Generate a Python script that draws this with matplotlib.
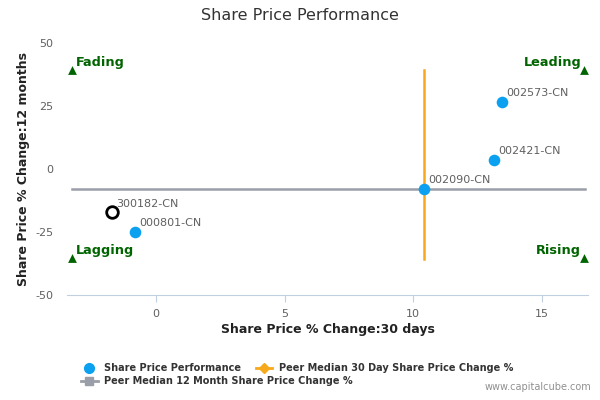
import matplotlib.pyplot as plt
from matplotlib.lines import Line2D

plt.rcParams['axes.unicode_minus'] = False

# Data
tickers = ['002573-CN', '002421-CN', '002090-CN', '000801-CN']
chg_30d = [13.45, 13.15, 10.43, -0.82]
chg_12m = [26.6, 3.6, -7.9, -25.0]

# highlighted company (open circle)
focus_name = '300182-CN'
focus_30d = -1.71
focus_12m = -17.1

# peer medians
median_30d = 10.43
median_12m = -7.9
median_30d_span = [-35.7, 39.3]
median_12m_span = [-3.27, 16.7]

# quadrant markers
quad_labels = ['Fading', 'Leading', 'Lagging', 'Rising']
quad_x = [-3.27, 16.65, -3.27, 16.65]
quad_y = [39.3, 39.3, -35.3, -35.3]

xlim = (-3.46, 16.8)
ylim = (-50, 50)

fig = plt.figure(figsize=(6, 4), dpi=100)
ax = fig.add_axes([0.1117, 0.2625, 0.8683, 0.63])

GREEN = '#006400'
BLUE = '#0ba0f0'
ORANGE = '#f7a81b'
GREY = '#9a9ea8'
TEXT = '#606060'

# median lines
ax.plot(median_12m_span, [median_12m, median_12m], color=GREY, lw=1.8, zorder=2)
ax.plot([median_30d, median_30d], median_30d_span, color=ORANGE, lw=1.8, zorder=2)

# points
ax.scatter(chg_30d, chg_12m, s=70, color=BLUE, zorder=3, linewidths=0)
for name, x, y in zip(tickers, chg_30d, chg_12m):
    ax.annotate(name, (x, y), xytext=(3, 4), textcoords='offset points',
                fontsize=8, color=TEXT)
ax.scatter([focus_30d], [focus_12m], s=70, facecolor='white',
           edgecolor='black', linewidths=2, zorder=4)
ax.annotate(focus_name, (focus_30d, focus_12m), xytext=(3, 4),
            textcoords='offset points', fontsize=8, color=TEXT)

# quadrant labels
ax.scatter(quad_x, quad_y, marker='^', s=40, color=GREEN, zorder=3, linewidths=0)
for lab, x, y in zip(quad_labels, quad_x, quad_y):
    if x < 0:
        ax.annotate(lab, (x, y), xytext=(3, 3), textcoords='offset points',
                    fontsize=9.3, fontweight='bold', color=GREEN)
    else:
        ax.annotate(lab, (x, y), xytext=(-2, 3), textcoords='offset points',
                    fontsize=9.3, fontweight='bold', color=GREEN, ha='right')

ax.set_xlim(*xlim)
ax.set_ylim(*ylim)
ax.set_xticks([0, 5, 10, 15])
ax.set_yticks([-50, -25, 0, 25, 50])
ax.tick_params(axis='x', colors='#c0d0e0', labelcolor=TEXT, labelsize=8,
               length=5, direction='out', pad=5)
ax.tick_params(axis='y', length=0, labelcolor=TEXT, labelsize=8, pad=10)
for s in ['top', 'right', 'left']:
    ax.spines[s].set_visible(False)
ax.spines['bottom'].set_color('#c0d0e0')

ax.set_xlabel('Share Price % Change:30 days', fontsize=9, fontweight='bold',
              color='#222222', labelpad=3)
ax.set_ylabel('Share Price % Change:12 months', fontsize=9, fontweight='bold',
              color='#222222')
ax.yaxis.set_label_coords(-0.072, 0.5)
fig.text(0.5, 0.96, 'Share Price Performance', ha='center', va='center',
         fontsize=11.5, color='#333333')

# legend, two rows laid out like the reference
h_perf = Line2D([], [], marker='o', color=BLUE, linestyle='none', markersize=7)
h_30d = Line2D([], [], marker='D', color=ORANGE, lw=2, markersize=5)
h_12m = Line2D([], [], marker='s', color=GREY, lw=2, markersize=6)
leg_kw = dict(frameon=False, prop={'size': 7, 'weight': 'bold'},
              labelcolor='#333333', handlelength=1.7, columnspacing=1.5,
              handletextpad=0.7, borderaxespad=0, borderpad=0)
fig.legend([h_perf, h_30d], ['Share Price Performance',
                             'Peer Median 30 Day Share Price Change %'],
           loc='center left', bbox_to_anchor=(0.135, 0.08), ncol=2, **leg_kw)
fig.legend([h_12m], ['Peer Median 12 Month Share Price Change %'],
           loc='center left', bbox_to_anchor=(0.135, 0.047), **leg_kw)
fig.text(0.985, 0.02, 'www.capitalcube.com', ha='right', va='bottom',
         fontsize=7, color='#909090')

fig.savefig('out.png', dpi=100)
